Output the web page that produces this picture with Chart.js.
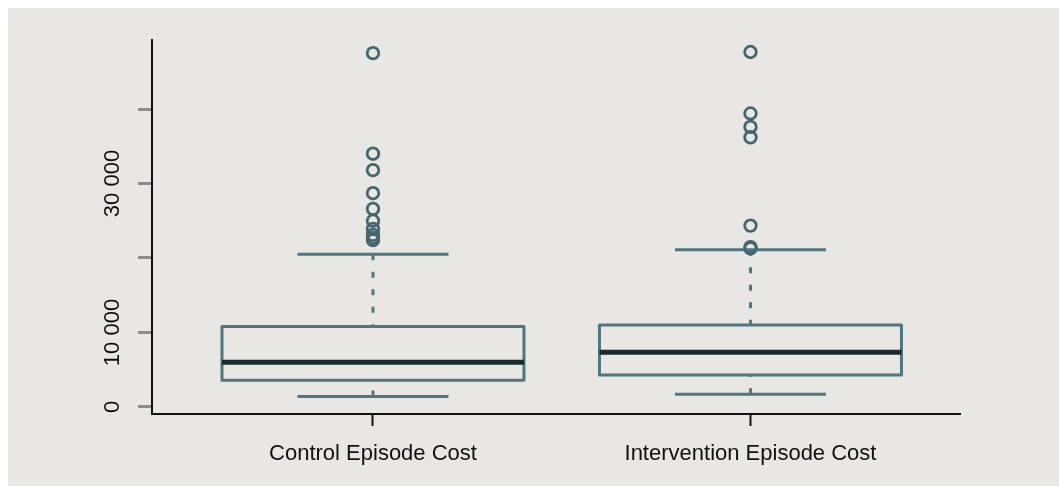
<!DOCTYPE html>
<html>
<head>
<meta charset="utf-8">
<title>Episode Cost</title>
<script src="https://cdn.jsdelivr.net/npm/chart.js@4.4.1/dist/chart.umd.min.js"></script>
<style>
  html, body { margin: 0; padding: 0; background: #ffffff; }
  #wrap { position: absolute; left: 8px; top: 8px; width: 1051px; height: 478px; background: #e8e7e3; }
  canvas { display: block; }
</style>
</head>
<body>
<div id="wrap"><canvas id="chart" width="1051" height="478"></canvas></div>
<script>
// Box-plot summary per group
const categories   = ['Control Episode Cost', 'Intervention Episode Cost'];
const whiskerLow   = [1400, 1700];
const q1           = [3600, 4300];
const median       = [6000, 7350];
const q3           = [10800, 11000];
const whiskerHigh  = [20500, 21100];

// Points beyond the whiskers
const outliersControl      = [22400, 22700, 23100, 23900, 25000, 26600, 28700, 31800, 34000, 47500];
const outliersIntervention = [21300, 21450, 24350, 36200, 37600, 39400, 47650];

// Axis ticks
const yTickValues = [0, 10000, 20000, 30000, 40000];
const yTickLabels = ['0', '10 000', '', '30 000', ''];

const BOX_COLOR = '#52767f';
const MEDIAN_COLOR = '#1b2a2d';
const POINT_COLOR = '#46656e';
const AXIS_COLOR = '#111111';
const FONT = '"Liberation Sans", Arial, Helvetica, sans-serif';

const BOX_HALF = 0.4;     // half box width, in x units
const CAP_HALF = 0.2;     // half whisker-cap width, in x units

const boxPlotPlugin = {
  id: 'boxPlot',
  beforeDatasetsDraw(chart) {
    const { ctx, scales: { x, y } } = chart;
    ctx.save();
    categories.forEach((_, i) => {
      const pos = i + 1;
      const cx = x.getPixelForValue(pos);
      const bl = x.getPixelForValue(pos - BOX_HALF);
      const br = x.getPixelForValue(pos + BOX_HALF);
      const cl = x.getPixelForValue(pos - CAP_HALF);
      const cr = x.getPixelForValue(pos + CAP_HALF);
      const yLo = y.getPixelForValue(whiskerLow[i]);
      const yQ1 = y.getPixelForValue(q1[i]);
      const yMed = y.getPixelForValue(median[i]);
      const yQ3 = y.getPixelForValue(q3[i]);
      const yHi = y.getPixelForValue(whiskerHigh[i]);

      ctx.strokeStyle = BOX_COLOR;
      ctx.lineCap = 'butt';

      // dashed whiskers, drawn from each cap toward the box
      ctx.lineWidth = 3;
      ctx.setLineDash([6, 11.5]);
      ctx.beginPath();
      ctx.moveTo(cx, yHi); ctx.lineTo(cx, yQ3);
      ctx.moveTo(cx, yLo); ctx.lineTo(cx, yQ1);
      ctx.stroke();
      ctx.setLineDash([]);

      // caps
      ctx.lineWidth = 3;
      ctx.beginPath();
      ctx.moveTo(cl, yHi); ctx.lineTo(cr, yHi);
      ctx.moveTo(cl, yLo); ctx.lineTo(cr, yLo);
      ctx.stroke();

      // box
      ctx.lineWidth = 3;
      ctx.lineJoin = 'round';
      ctx.strokeRect(bl, yQ3, br - bl, yQ1 - yQ3);

      // median
      ctx.strokeStyle = MEDIAN_COLOR;
      ctx.lineWidth = 5;
      ctx.beginPath();
      ctx.moveTo(bl, yMed); ctx.lineTo(br, yMed);
      ctx.stroke();
    });
    ctx.restore();
  }
};

const yLabelPlugin = {
  id: 'yLabels',
  afterDraw(chart) {
    const { ctx, scales: { y } } = chart;
    ctx.save();
    ctx.font = '22px ' + FONT;
    ctx.fillStyle = AXIS_COLOR;
    ctx.textAlign = 'center';
    ctx.textBaseline = 'alphabetic';
    y.ticks.forEach(t => {
      const label = yTickLabels[yTickValues.indexOf(t.value)];
      if (!label) return;
      const py = y.getPixelForValue(t.value);
      ctx.save();
      ctx.translate(111, py);
      ctx.rotate(-Math.PI / 2);
      ctx.fillText(label, 0, 0);
      ctx.restore();
    });
    ctx.restore();
  }
};

const toPoints = (vals, pos) => vals.map(v => ({ x: pos, y: v }));

new Chart(document.getElementById('chart'), {
  type: 'scatter',
  data: {
    datasets: [
      { label: categories[0], data: toPoints(outliersControl, 1) },
      { label: categories[1], data: toPoints(outliersIntervention, 2) }
    ].map(d => Object.assign(d, {
      pointStyle: 'circle',
      pointRadius: 5.8,
      pointHoverRadius: 5.8,
      borderWidth: 2.8,
      borderColor: POINT_COLOR,
      backgroundColor: 'rgba(0,0,0,0)',
      clip: false
    }))
  },
  options: {
    responsive: false,
    animation: false,
    devicePixelRatio: 1,
    layout: { padding: { left: 0, top: 32, right: 99, bottom: 0 } },
    plugins: { legend: { display: false }, tooltip: { enabled: false } },
    events: [],
    scales: {
      x: {
        type: 'linear',
        min: 0.4146,
        max: 2.555,
        afterBuildTicks: s => { s.ticks = [1, 2].map(v => ({ value: v })); },
        afterFit: s => { s.height = 72; },
        ticks: {
          callback: v => categories[v - 1] || '',
          font: { size: 22, family: FONT },
          color: AXIS_COLOR,
          padding: 15,
          maxRotation: 0,
          minRotation: 0,
          autoSkip: false
        },
        grid: { drawOnChartArea: false, drawTicks: true, tickLength: 12, tickColor: AXIS_COLOR, tickWidth: 2 },
        border: { display: true, color: AXIS_COLOR, width: 2 }
      },
      y: {
        type: 'linear',
        min: -940,
        max: 49262,
        afterBuildTicks: s => { s.ticks = yTickValues.map(v => ({ value: v })); },
        afterFit: s => { s.width = 144; },
        ticks: { display: false },
        grid: { drawOnChartArea: false, drawTicks: true, tickLength: 14, tickColor: '#8c8c8c', tickWidth: 3 },
        border: { display: true, color: AXIS_COLOR, width: 2 }
      }
    }
  },
  plugins: [boxPlotPlugin, yLabelPlugin]
});
</script>
</body>
</html>
